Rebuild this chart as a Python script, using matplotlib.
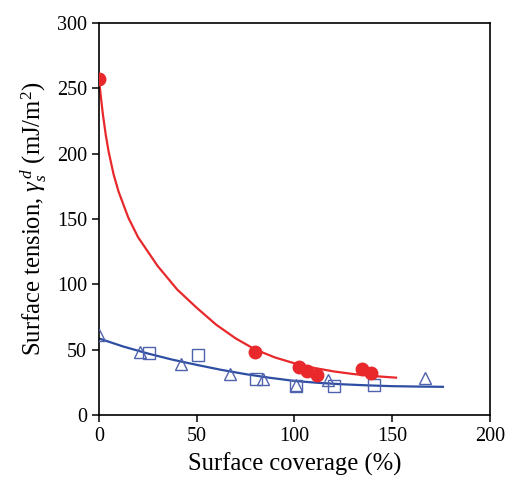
import matplotlib
matplotlib.use("Agg")
import matplotlib.pyplot as plt

plt.rcParams['font.family'] = ['Liberation Serif', 'DejaVu Serif']
plt.rcParams['mathtext.fontset'] = 'custom'
plt.rcParams['mathtext.rm'] = 'Liberation Serif'
plt.rcParams['mathtext.it'] = 'Liberation Serif:italic'

# red series (filled circles) and its fitted curve
red_x = [0, 80, 102.5, 106.5, 111.5, 134.5, 139]
red_y = [257, 48.5, 36.3, 33.7, 30.7, 35.3, 32]
red_fit_x = [0, 1, 2, 3.5, 5, 7.5, 10, 15, 20, 30, 40, 50, 60, 70, 80, 90, 100, 110, 120, 130, 140, 152]
red_fit_y = [257, 243, 230, 214, 201, 184, 171, 151, 136, 114, 96, 82, 69, 58.5, 50, 44, 39.5, 36, 33.3, 31.3, 29.8, 28.5]

# blue series: triangles, squares and shared fitted curve
tri_x = [0, 21, 42, 67, 84, 101, 117, 167]
tri_y = [61, 48.5, 39, 31.4, 27.6, 23, 26.8, 28.1]
sq_x = [25.5, 50.5, 80.5, 101, 120.5, 140.5]
sq_y = [47.3, 46, 27.6, 22.5, 22.5, 23]
blue_fit_x = [0, 12.5, 25, 37.5, 50, 62.5, 75, 87.5, 100, 112.5, 125, 137.5, 150, 162.5, 176]
blue_fit_y = [58.5, 52.3, 47, 42.3, 38.3, 34.5, 31.2, 28.4, 26, 24.5, 23.4, 22.6, 22, 21.7, 21.5]

red = '#e8282b'
blue = '#2d4ea3'
blue_mk = '#4f62ad'

fig = plt.figure(figsize=(5.05, 4.78), dpi=100)
ax = fig.add_axes([0.196, 0.132, 0.774, 0.820])

ax.plot(red_fit_x, red_fit_y, color=red, lw=1.6, zorder=2)
ax.plot(blue_fit_x, blue_fit_y, color=blue, lw=1.6, zorder=2)
ax.plot(tri_x, tri_y, linestyle='none', marker='^', ms=9, mfc='none', mec=blue_mk, mew=1.0, zorder=3)
ax.plot(sq_x, sq_y, linestyle='none', marker='s', ms=8, mfc='none', mec=blue_mk, mew=1.0, zorder=3)
ax.plot(red_x, red_y, linestyle='none', marker='o', ms=9, color=red, zorder=4)

ax.set_xlim(0, 200)
ax.set_ylim(0, 300)
ax.set_xticks([0, 50, 100, 150, 200])
ax.set_yticks([0, 50, 100, 150, 200, 250, 300])
ax.tick_params(direction='out', length=5, width=1.1, labelsize=14.5, top=False, right=False)
for s in ax.spines.values():
    s.set_linewidth(1.2)

ax.set_xlabel('Surface coverage (%)', fontsize=17.7, labelpad=5)
ax.set_ylabel(r'Surface tension, $\gamma_s^{\,d}$ (mJ/m$^2$)', fontsize=17.7, labelpad=6)

fig.savefig('out.png', dpi=100)
